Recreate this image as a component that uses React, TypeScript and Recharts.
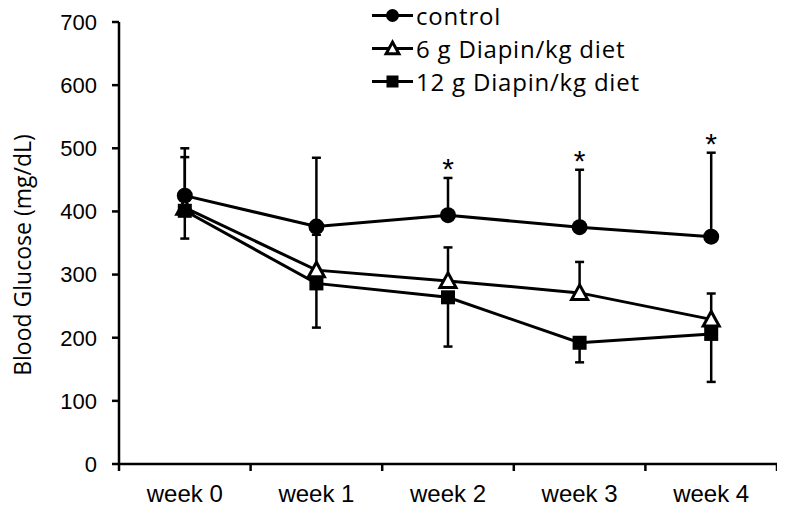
import React from "react"
import { ComposedChart, Line, XAxis, YAxis, ErrorBar, Legend } from "recharts"

const WEEKS = ["week 0", "week 1", "week 2", "week 3", "week 4"]
const CONTROL = [425, 376, 394, 375, 360]
const CONTROL_UP = [75, 109, 59, 91, 133]
const LOW_DOSE = [406, 307, 290, 271, 229]
const LOW_DOSE_UP = [80, 56, 53, 49, 41]
const HIGH_DOSE = [401, 286, 264, 192, 206]
const HIGH_DOSE_DOWN = [44, 70, 78, 31, 76]
const SIGNIFICANT = [false, false, true, true, true]
const Y_TICKS = [0, 100, 200, 300, 400, 500, 600, 700]

const data = WEEKS.map((week, i) => ({
  week,
  control: CONTROL[i],
  controlErr: [0, CONTROL_UP[i]],
  low: LOW_DOSE[i],
  lowErr: [0, LOW_DOSE_UP[i]],
  high: HIGH_DOSE[i],
  highErr: [HIGH_DOSE_DOWN[i], 0],
  star: SIGNIFICANT[i] ? CONTROL[i] + CONTROL_UP[i] : null,
}))

const axisFont = "'Liberation Sans', Arial, sans-serif"
const labelFont = "'Open Sans', Lato, sans-serif"

function Circle({ cx, cy, r = 8 }: any) {
  return <circle cx={cx} cy={cy} r={r} fill="#000" />
}

function Triangle({ cx, cy, s = 1 }: any) {
  const pts = `${cx},${cy - 8 * s} ${cx - 8 * s},${cy + 6.5 * s} ${cx + 8 * s},${cy + 6.5 * s}`
  return <polygon points={pts} fill="#fff" stroke="#000" strokeWidth={3} strokeLinejoin="miter" />
}

function Square({ cx, cy, size = 14 }: any) {
  return <rect x={cx - size / 2} y={cy - size / 2} width={size} height={size} fill="#000" />
}

const LEGEND = [
  { name: "control", Mark: Circle, props: { r: 6.5 } },
  { name: "6 g Diapin/kg diet", Mark: Triangle, props: { s: 0.8 } },
  { name: "12 g Diapin/kg diet", Mark: Square, props: { size: 12 } },
]

function LegendBox() {
  return (
    <div style={{ fontFamily: labelFont, fontSize: 24, letterSpacing: 0.8, color: "#000" }}>
      {LEGEND.map(({ name, Mark, props }) => (
        <div key={name} style={{ display: "flex", alignItems: "center", height: 33 }}>
          <svg width={44} height={33}>
            <line x1={0} y1={16.5} x2={41} y2={16.5} stroke="#000" strokeWidth={3} />
            <Mark cx={20.5} cy={16.5} {...props} />
          </svg>
          <span style={{ lineHeight: "33px" }}>{name}</span>
        </div>
      ))}
    </div>
  )
}

function YLabel({ viewBox }: any) {
  const x = viewBox.x + 14
  const y = viewBox.y + viewBox.height / 2 + 12
  return (
    <text
      x={x}
      y={y}
      transform={`rotate(-90, ${x}, ${y})`}
      textAnchor="middle"
      dominantBaseline="central"
      fontSize={23}
      fontFamily={labelFont}
      fill="#000"
    >
      Blood Glucose (mg/dL)
    </text>
  )
}

// category label plus Excel-style tick marks between categories
function WeekTick(props: any) {
  const { x, y, payload, index, visibleTicksCount, width } = props
  const half = payload.offset ?? width / visibleTicksCount / 2
  return (
    <g>
      <line x1={x - half} y1={y} x2={x - half} y2={y + 7} stroke="#000" strokeWidth={2.5} />
      {index === visibleTicksCount - 1 && (
        <line x1={x + half} y1={y} x2={x + half} y2={y + 7} stroke="#000" strokeWidth={2.5} />
      )}
      <text x={x} y={y + 37.5} textAnchor="middle" fontSize={24} fontFamily={axisFont} fill="#000">
        {payload.value}
      </text>
    </g>
  )
}

export default function App() {
  return (
    <ComposedChart
      width={777}
      height={501}
      data={data}
      margin={{ top: 14, right: 8, bottom: 5, left: 0 }}
    >
      <XAxis
        dataKey="week"
        scale="band"
        stroke="#000"
        strokeWidth={2.5}
        tickLine={false}
        tickSize={0}
        tickMargin={0}
        height={40}
        tick={<WeekTick />}
      />
      <YAxis
        domain={[0, 700]}
        ticks={Y_TICKS}
        width={111}
        tickSize={7}
        tickMargin={15}
        stroke="#000"
        strokeWidth={2.5}
        tick={{ fill: "#000", fontSize: 22, fontFamily: axisFont }}
        label={<YLabel />}
      />
      <Legend
        layout="vertical"
        align="center"
        verticalAlign="middle"
        content={() => <LegendBox />}
        wrapperStyle={{ top: -9, left: 364, width: 330 }}
      />
      <Line
        dataKey="control"
        stroke="#000"
        strokeWidth={3}
        isAnimationActive={false}
        dot={(p: any) => <Circle key={`c-${p.index}`} cx={p.cx} cy={p.cy} />}
        activeDot={false}
      >
        <ErrorBar dataKey="controlErr" width={4.5} stroke="#000" strokeWidth={2.5} />
      </Line>
      <Line
        dataKey="low"
        stroke="#000"
        strokeWidth={3}
        isAnimationActive={false}
        dot={(p: any) => <Triangle key={`t-${p.index}`} cx={p.cx} cy={p.cy} />}
        activeDot={false}
      >
        <ErrorBar dataKey="lowErr" width={4.5} stroke="#000" strokeWidth={2.5} />
      </Line>
      <Line
        dataKey="high"
        stroke="#000"
        strokeWidth={3}
        isAnimationActive={false}
        dot={(p: any) => <Square key={`s-${p.index}`} cx={p.cx} cy={p.cy} />}
        activeDot={false}
      >
        <ErrorBar dataKey="highErr" width={4.5} stroke="#000" strokeWidth={2.5} />
      </Line>
      <Line
        dataKey="star"
        stroke="none"
        isAnimationActive={false}
        legendType="none"
        activeDot={false}
        dot={(p: any) =>
          p.value == null ? (
            <g key={`a-${p.index}`} />
          ) : (
            <text
              key={`a-${p.index}`}
              x={p.cx}
              y={p.cy + 1}
              textAnchor="middle"
              fontSize={30}
              fontFamily={axisFont}
              fill="#000"
            >
              *
            </text>
          )
        }
      />
    </ComposedChart>
  )
}
